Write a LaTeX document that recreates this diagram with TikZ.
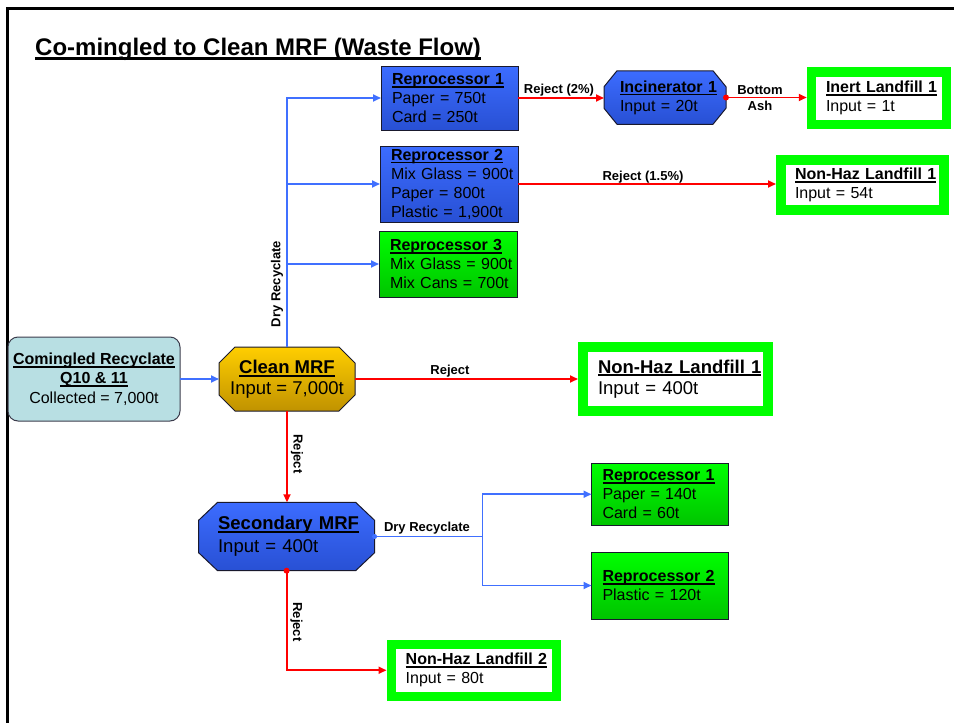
\documentclass[tikz,border=0pt]{standalone}
\usepackage{fontspec}
\setmainfont{Liberation Sans}
\usetikzlibrary{arrows.meta,backgrounds}

\definecolor{blueTop}{RGB}{60,108,255}
\definecolor{blueBot}{RGB}{40,80,212}
\definecolor{greenTop}{RGB}{0,255,0}
\definecolor{greenBot}{RGB}{0,196,0}
\definecolor{goldTop}{RGB}{255,206,0}
\definecolor{goldBot}{RGB}{192,146,0}
\definecolor{tealbox}{RGB}{184,223,227}
\definecolor{lfgreen}{RGB}{0,255,0}
\definecolor{lineblue}{RGB}{64,112,255}
\definecolor{linered}{RGB}{255,0,0}
\definecolor{edgecol}{RGB}{25,25,45}

\newcommand\ulxx[3]{\leavevmode\setbox0\hbox{#3}\rlap{\rule[#1]{\wd0}{#2}}\box0}
\newcommand\ulb[1]{\ulxx{-3.3pt}{1.8pt}{\bfseries #1}}
\newcommand\octo[5]{\shadedraw[top color=#4, bottom color=#5, draw=edgecol, line width=1pt]
 ([xshift=#2]#1.north west) -- ([xshift=-#2]#1.north east) -- ([yshift=-#3]#1.north east) --
 ([yshift=#3]#1.south east) -- ([xshift=-#2]#1.south east) -- ([xshift=#2]#1.south west) --
 ([yshift=#3]#1.south west) -- ([yshift=-#3]#1.north west) -- cycle;}

\tikzset{
 boxbase/.style={rectangle, inner xsep=0pt, inner ysep=0pt, outer sep=0pt, align=left,
   font=\fontsize{16}{19}\selectfont},
 repblue/.style={boxbase, draw=edgecol, line width=1pt, top color=blueTop, bottom color=blueBot},
 repgreen/.style={boxbase, draw=edgecol, line width=1pt, top color=greenTop, bottom color=greenBot},
 landfill/.style={boxbase, draw=lfgreen, fill=white},
 octnode/.style={boxbase},
 lbl/.style={font=\fontsize{13}{16}\selectfont\bfseries, inner sep=0pt},
 bflow/.style={draw=lineblue, line width=1.8pt, -{Triangle[length=8pt,width=7pt]}},
 rflow/.style={draw=linered, line width=1.8pt, -{Triangle[length=8pt,width=7pt]}}
}

\begin{document}
\begin{tikzpicture}[x=1pt,y=-1pt]
\useasboundingbox (0,0) rectangle (954,723);

% frame
\draw[line width=3pt] (7.5,723) -- (7.5,8.5) -- (954,8.5);

% title
\node[inner sep=0pt, anchor=base west, font=\fontsize{24}{28}\selectfont\bfseries] (title) at (35,55)
  {\ulxx{-5pt}{2.6pt}{Co-mingled to Clean MRF (Waste Flow)}};

% upper reprocessors
\node[repblue, minimum width=137pt, minimum height=64pt, text width=115pt] (rA) at (449.5,98)
  {\ulb{Reprocessor 1}\\\mbox{Paper = 750t}\\\mbox{Card = 250t}};
\node[repblue, minimum width=138pt, minimum height=76pt, text width=116pt] (rB) at (449,184)
  {\ulb{Reprocessor 2}\\\mbox{Mix Glass = 900t}\\\mbox{Paper = 800t}\\\mbox{Plastic = 1,900t}};
\node[repgreen, minimum width=138pt, minimum height=66pt, text width=116pt] (rC) at (448,264)
  {\ulb{Reprocessor 3}\\\mbox{Mix Glass = 900t}\\\mbox{Mix Cans = 700t}};

% incinerator
\node[octnode, minimum width=122pt, minimum height=53.5pt, text width=90pt] (inc) at (665,97.5)
  {\ulb{Incinerator 1}\\\mbox{Input = 20t}};

% landfills
\node[landfill, line width=9.5pt, outer sep=4.75pt, minimum width=135pt, minimum height=52.5pt, text width=106pt] (inert) at (879,98.25)
  {\ulb{Inert Landfill 1}\\\mbox{Input = 1t}};
\node[landfill, line width=10pt, outer sep=5pt, minimum width=163pt, minimum height=50pt, text width=135pt] (nhT) at (862.5,185)
  {\ulb{Non-Haz Landfill 1}\\\mbox{Input = 54t}};
\node[landfill, line width=10pt, outer sep=5pt, minimum width=184.5pt, minimum height=63.5pt, text width=154.5pt,
  font=\fontsize{18.5}{21}\selectfont] (nhM) at (675.25,378.75)
  {\ulxx{-3.3pt}{1.9pt}{\bfseries Non-Haz Landfill 1}\\\mbox{Input = 400t}};
\node[landfill, line width=9pt, outer sep=4.5pt, minimum width=165pt, minimum height=51.5pt, text width=135.6pt] (nh2) at (473.5,670.25)
  {\ulb{Non-Haz Landfill 2}\\\mbox{Input = 80t}};

% source
\node[boxbase, align=center, rounded corners=10pt, draw=edgecol!85, line width=1pt, fill=tealbox,
  minimum width=172pt, minimum height=84pt, font=\fontsize{16}{19.5}\selectfont] (com) at (94,379)
  {\ulb{Comingled Recyclate}\\\ulb{Q10 \& 11}\\Collected = 7,000t};

% MRFs
\node[octnode, align=center, minimum width=136pt, minimum height=64pt, font=\fontsize{18.5}{21}\selectfont] (clean) at (287,379)
  {\ulxx{-3.3pt}{1.9pt}{\bfseries Clean MRF}\\Input = 7,000t};
\node[octnode, minimum width=176pt, minimum height=68.4pt, text width=137pt, font=\fontsize{18.5}{23}\selectfont] (sec) at (286.6,536.5)
  {\ulxx{-3.3pt}{1.9pt}{\bfseries Secondary MRF}\\\mbox{Input = 400t}};

% lower reprocessors
\node[repgreen, minimum width=137pt, minimum height=62.5pt, text width=115pt] (rD) at (660,494.25)
  {\ulb{Reprocessor 1}\\\mbox{Paper = 140t}\\\mbox{Card = 60t}};
\node[repgreen, minimum width=137pt, minimum height=67pt, text width=115pt] (rE) at (660,585.5)
  {\ulb{Reprocessor 2}\\\mbox{Plastic = 120t}};

% octagon outlines
\begin{scope}[on background layer]
\octo{inc}{13pt}{16pt}{blueTop}{blueBot}
\octo{clean}{16pt}{16pt}{goldTop}{goldBot}
\octo{sec}{19pt}{18pt}{blueTop}{blueBot}
\end{scope}

% connectors
\draw[bflow] (com.east) -- (clean.west);
\draw[bflow] (clean.north) |- (rA.west);
\draw[bflow] (clean.north) |- (rB.west);
\draw[bflow] (clean.north) |- (rC.west);
\draw[rflow] (rA.east) -- (rA.east -| inc.west);
\draw[rflow] (inc.east) -- (inc.east -| inert.west);
\fill[linered] (inc.east) circle (3pt);
\draw[rflow] (rB.east) -- (rB.east -| nhT.west);
\draw[rflow] (clean.east) -- (clean.east -| nhM.west);
\draw[rflow] (clean.south) -- (clean.south |- sec.north);
\coordinate (br) at (482.5,536.5);
\draw[bflow] (sec.east) -- (br) |- (rD.west);
\draw[bflow] (br) |- (rE.west);
\fill[lineblue] (sec.east) circle (2.5pt);
\draw[rflow] (sec.south) |- (nh2.west);
\fill[linered] (sec.south) circle (3pt);

% labels
\node[lbl, anchor=base] (l1) at (559,93) {Reject (2\%)};
\node[lbl, align=center] (l2) at (760,98.5) {Bottom\\Ash};
\node[lbl, anchor=base] (l3) at (643,180) {Reject (1.5\%)};
\node[lbl, rotate=90] (l4) at (277,284) {Dry Recyclate};
\node[lbl, anchor=base] (l5) at (450,374) {Reject};
\node[lbl, rotate=-90] (l6) at (297,454) {Reject};
\node[lbl, anchor=base] (l7) at (427,531.7) {Dry Recyclate};
\node[lbl, rotate=-90] (l8) at (296.5,622) {Reject};
\end{tikzpicture}
\end{document}
